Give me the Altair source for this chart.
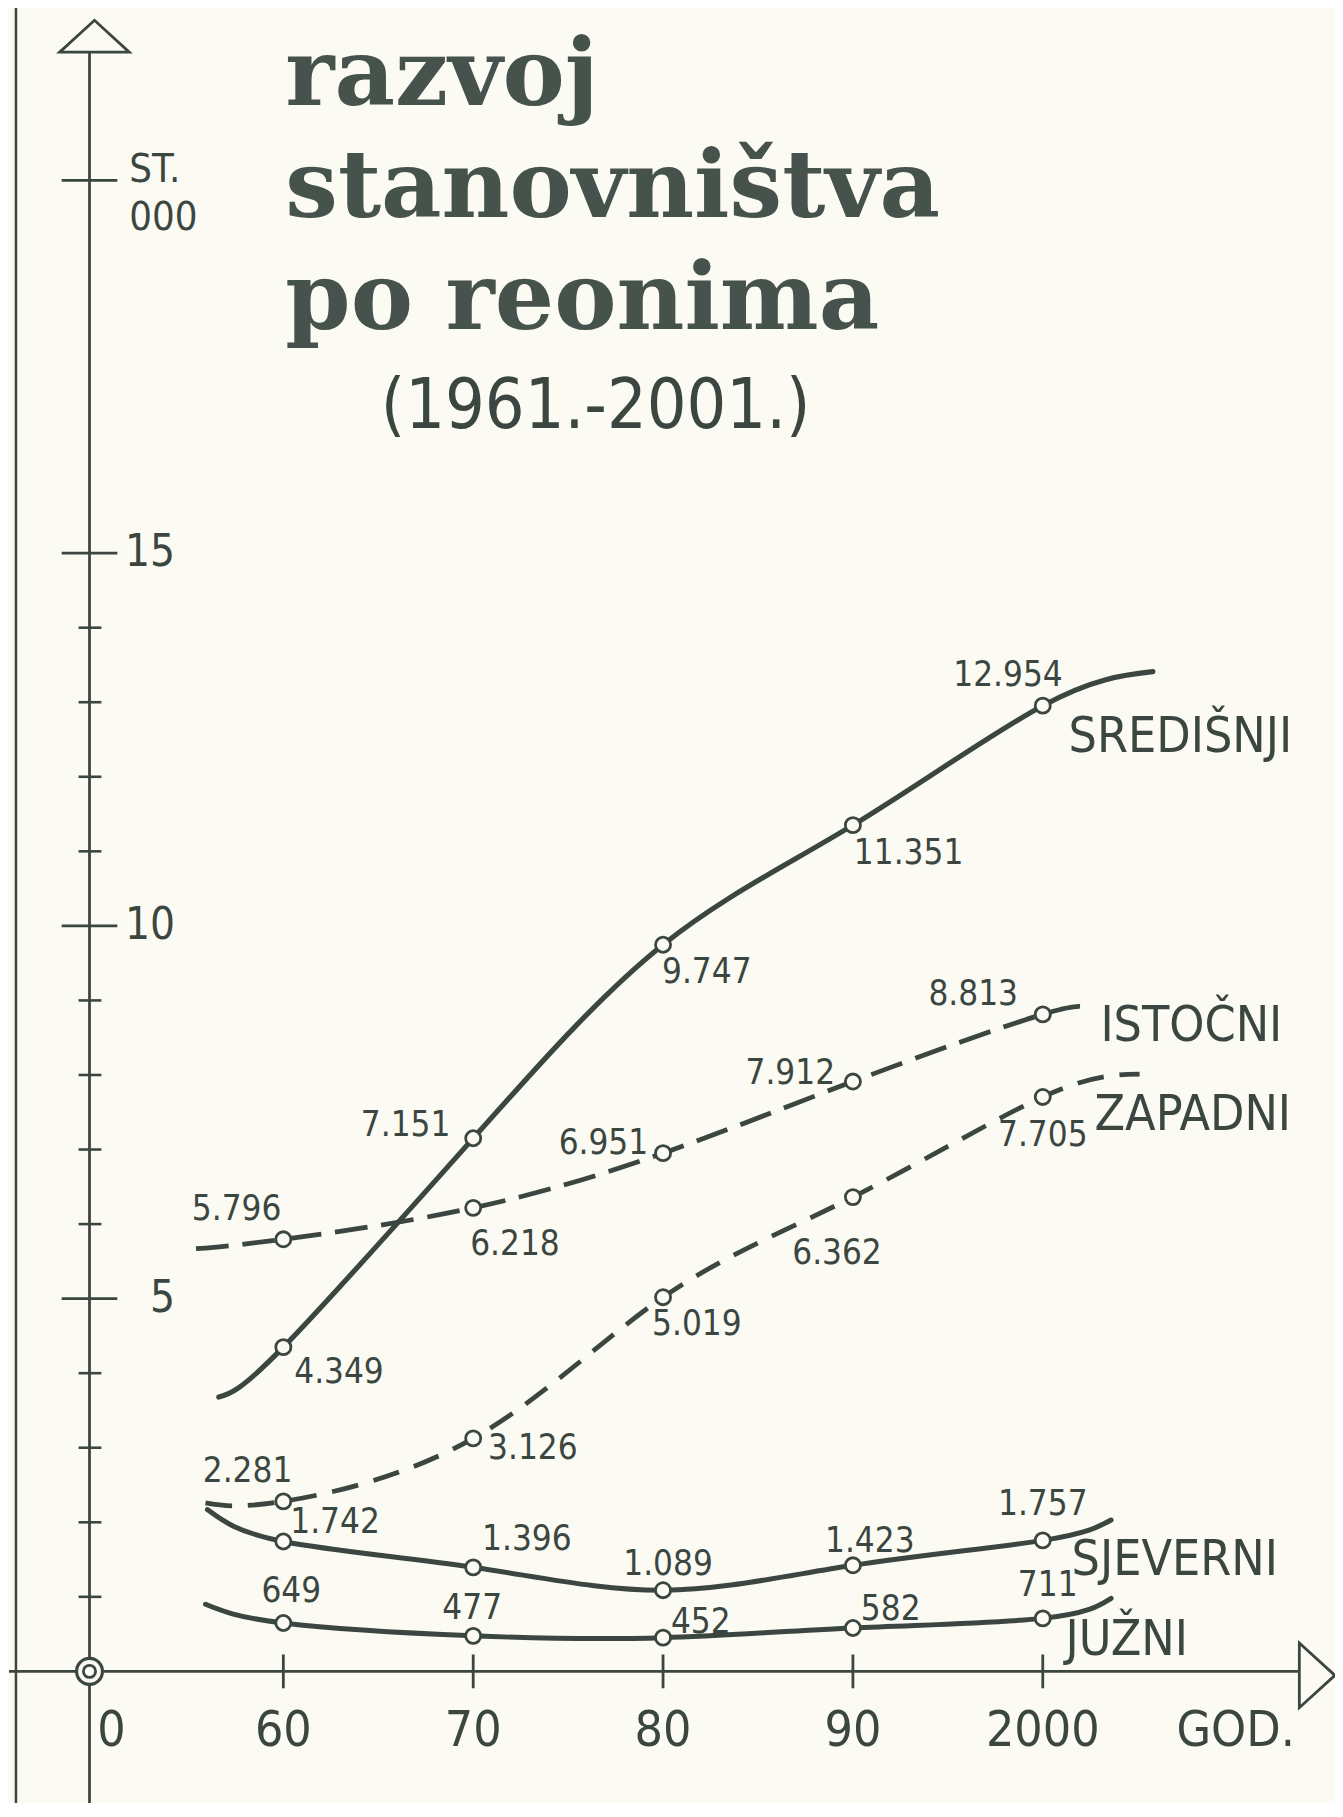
import altair as alt
import pandas as pd

# ---------------- data (population, persons) ----------------
YEARS = [1961, 1971, 1981, 1991, 2001]
X_TICK_LABELS = ["60", "70", "80", "90", "2000"]

SREDISNJI = [4349, 7151, 9747, 11351, 12954]
ISTOCNI = [5796, 6218, 6951, 7912, 8813]
ZAPADNI = [2281, 3126, 5019, 6362, 7705]
SJEVERNI = [1742, 1396, 1089, 1423, 1757]
JUZNI = [649, 477, 452, 582, 711]

REGION_NAMES = ["SREDIŠNJI", "ISTOČNI", "ZAPADNI", "SJEVERNI", "JUŽNI"]
SERIES = [SREDISNJI, ISTOCNI, ZAPADNI, SJEVERNI, JUZNI]

# where the hand-drawn curves begin and end beyond the census points (year, thousands)
CURVE_START = [(1957.6, 3.68), (1956.4, 5.67), (1956.9, 2.26), (1957.0, 2.17), (1956.9, 0.90)]
CURVE_END = [(2006.8, 13.41), (2003.3, 8.86), (2006.1, 8.01), (2004.6, 2.03), (2004.6, 0.98)]

Y_MAJOR = [5, 10, 15, 20]
Y_LABELLED = [5, 10, 15]
Y_MINOR = [1, 2, 3, 4, 6, 7, 8, 9, 11, 12, 13, 14]
UNIT_LABEL = "ST.\n000"

TITLE = "razvoj\nstanovništva\npo reonima"
SUBTITLE = "(1961.-2001.)"

# ---------------- layout / style ----------------
W, H = 1335, 1795
PAGE = 8
PX_YEAR = 19.1      # px per year
X_1961 = 285        # page x of 1961
Y_ZERO = 1676       # page y of value 0
PX_UNIT = 75        # px per 1000 inhabitants

INK = "#3b4641"
TITLE_INK = "#46524c"
BG = "#fbfbf3"
FONT = "Liberation Sans Narrow, DejaVu Sans Condensed, sans-serif"
TITLE_FONT = "DejaVu Serif, serif"

LINE_STYLE = [
    dict(strokeWidth=5.2),
    dict(strokeWidth=4.8, strokeDash=[33, 14]),
    dict(strokeWidth=4.8, strokeDash=[27, 16]),
    dict(strokeWidth=5.0),
    dict(strokeWidth=5.0),
]
# offsets (px) of the value labels from their points
LABEL_OFFSETS = [
    [(56, 25), (-68, -13), (44, 27), (56, 28), (-35, -31)],
    [(-47, -30), (42, 36), (-60, -10), (-63, -9), (-70, -20)],
    [(-36, -30), (60, 10), (34, 27), (-16, 56), (0, 38)],
    [(52, -20), (54, -28), (5, -26), (17, -24), (0, -37)],
    [(8, -32), (-1, -28), (38, -16), (38, -19), (5, -34)],
]
NAME_OFFSETS = [(26, 32), (58, 12), (52, 18), (29, 20), (23, 22)]


def yr(px):
    return 1961 + (px - X_1961) / PX_YEAR


def val(py):
    return (Y_ZERO - py) / PX_UNIT


XS = alt.Scale(domain=[yr(PAGE), yr(PAGE + W)], nice=False, zero=False)
YS = alt.Scale(domain=[val(PAGE + H), val(PAGE)], nice=False, zero=False)


def xy(chart, x2=False, y2=False, extra=None):
    e = dict(x=alt.X("x:Q", scale=XS, axis=None), y=alt.Y("y:Q", scale=YS, axis=None))
    if x2:
        e["x2"] = alt.X2("x2:Q")
    if y2:
        e["y2"] = alt.Y2("y2:Q")
    if extra:
        e.update(extra)
    return chart.encode(**e)


AX = yr(90)  # position of the vertical axis

layers = []

# scan frame line at the left
layers.append(xy(alt.Chart(pd.DataFrame({"x": [yr(16)], "y": [val(0)], "y2": [val(1817)]}))
                 .mark_rule(color=INK, strokeWidth=2.5), y2=True))
# vertical axis
layers.append(xy(alt.Chart(pd.DataFrame({"x": [AX], "y": [val(1817)], "y2": [val(47)]}))
                 .mark_rule(color=INK, strokeWidth=2.8), y2=True))
# horizontal axis
layers.append(xy(alt.Chart(pd.DataFrame({"x": [yr(9)], "x2": [yr(1307)], "y": [0.0]}))
                 .mark_rule(color=INK, strokeWidth=3.0), x2=True))
# y ticks
maj = pd.DataFrame({"y": Y_MAJOR})
maj["x"] = AX - 28 / PX_YEAR
maj["x2"] = AX + 28 / PX_YEAR
layers.append(xy(alt.Chart(maj).mark_rule(color=INK, strokeWidth=2.8), x2=True))
mino = pd.DataFrame({"y": Y_MINOR})
mino["x"] = AX - 11 / PX_YEAR
mino["x2"] = AX + 12 / PX_YEAR
layers.append(xy(alt.Chart(mino).mark_rule(color=INK, strokeWidth=2.6), x2=True))
# x ticks
xt = pd.DataFrame({"x": YEARS})
xt["y"] = 17 / PX_UNIT
xt["y2"] = -17 / PX_UNIT
layers.append(xy(alt.Chart(xt).mark_rule(color=INK, strokeWidth=2.8), y2=True))

# arrow heads
layers.append(xy(alt.Chart(pd.DataFrame({"x": [AX + 5 / PX_YEAR], "y": [val(31)]}))
                 .mark_point(shape="M-1,0.457L0,-0.457L1,0.457Z", size=4900, filled=True,
                             fill=BG, stroke=INK, strokeWidth=2.8, opacity=1)))
layers.append(xy(alt.Chart(pd.DataFrame({"x": [yr(1325)], "y": [-4 / PX_UNIT]}))
                 .mark_point(shape="M-0.55,-1L0.55,0L-0.55,1Z", size=4225, filled=True,
                             fill=BG, stroke=INK, strokeWidth=2.8, opacity=1)))
# origin symbol
orig = pd.DataFrame({"x": [AX], "y": [0.0]})
layers.append(xy(alt.Chart(orig).mark_point(shape="circle", size=676, filled=True, fill=BG,
                                            stroke=INK, strokeWidth=3.2, opacity=1)))
layers.append(xy(alt.Chart(orig).mark_point(shape="circle", size=150, filled=False,
                                            stroke=INK, strokeWidth=2.8, opacity=1)))

# axis labels
yl = pd.DataFrame({"y": Y_LABELLED, "t": [str(v) for v in Y_LABELLED]})
yl["x"] = yr(176)
layers.append(xy(alt.Chart(yl).mark_text(align="right", baseline="middle", font=FONT,
                                         fontSize=44, color=INK), extra={"text": "t:N"}))
st = pd.DataFrame({"x": [yr(130)], "y": [val(166)], "t": [UNIT_LABEL]})
layers.append(xy(alt.Chart(st).mark_text(align="left", baseline="middle", font=FONT,
                                         fontSize=40, lineHeight=48, lineBreak="\n",
                                         color=INK), extra={"text": "t:N"}))
xl = pd.DataFrame({"x": [yr(112)] + YEARS + [yr(1243)],
                   "t": ["0"] + X_TICK_LABELS + ["GOD."]})
xl["y"] = val(1736)
layers.append(xy(alt.Chart(xl).mark_text(align="center", baseline="middle", font=FONT,
                                         fontSize=50, color=INK), extra={"text": "t:N"}))

# series lines
pts_rows, lab_rows, name_rows = [], [], []
for i, (name, vals) in enumerate(zip(REGION_NAMES, SERIES)):
    rows = [{"x": CURVE_START[i][0], "y": CURVE_START[i][1]}]
    for j, (year, p) in enumerate(zip(YEARS, vals)):
        v = p / 1000
        rows.append({"x": year, "y": v})
        pts_rows.append({"x": year, "y": v})
        dx, dy = LABEL_OFFSETS[i][j]
        lab_rows.append({"x": year + dx / PX_YEAR, "y": v - dy / PX_UNIT,
                         "t": f"{p:,}".replace(",", ".")})
    rows.append({"x": CURVE_END[i][0], "y": CURVE_END[i][1]})
    style = LINE_STYLE[i]
    cap = "butt" if "strokeDash" in style else "round"
    layers.append(xy(alt.Chart(pd.DataFrame(rows)).mark_line(
        interpolate="natural", color=INK, strokeCap=cap, **style)))
    dx, dy = NAME_OFFSETS[i]
    name_rows.append({"x": YEARS[-1] + dx / PX_YEAR, "y": vals[-1] / 1000 - dy / PX_UNIT, "t": name})

layers.append(xy(alt.Chart(pd.DataFrame(pts_rows)).mark_point(
    shape="circle", size=230, filled=True, fill=BG, stroke=INK, strokeWidth=2.8, opacity=1)))
layers.append(xy(alt.Chart(pd.DataFrame(lab_rows)).mark_text(
    align="center", baseline="middle", font=FONT, fontSize=35, color=INK), extra={"text": "t:N"}))
layers.append(xy(alt.Chart(pd.DataFrame(name_rows)).mark_text(
    align="left", baseline="middle", font=FONT, fontSize=50, color=INK), extra={"text": "t:N"}))

# title
tt = pd.DataFrame({"x": [yr(287)], "y": [val(100)], "t": [TITLE]})
layers.append(xy(alt.Chart(tt).mark_text(align="left", baseline="alphabetic", font=TITLE_FONT,
                                         fontWeight="bold", fontSize=94, lineHeight=113,
                                         lineBreak="\n", color=TITLE_INK),
                 extra={"text": "t:N"}))
sub = pd.DataFrame({"x": [yr(383)], "y": [val(425)], "t": [SUBTITLE]})
layers.append(xy(alt.Chart(sub).mark_text(align="left", baseline="alphabetic", font=FONT,
                                          fontSize=70, color=INK), extra={"text": "t:N"}))

chart = alt.layer(*layers).properties(
    width=W, height=H, padding=0, autosize=alt.AutoSizeParams(type="none"),
    background=BG,
).configure_view(stroke=None)

chart.save("out.html", embed_options={"renderer": "svg", "actions": False})
